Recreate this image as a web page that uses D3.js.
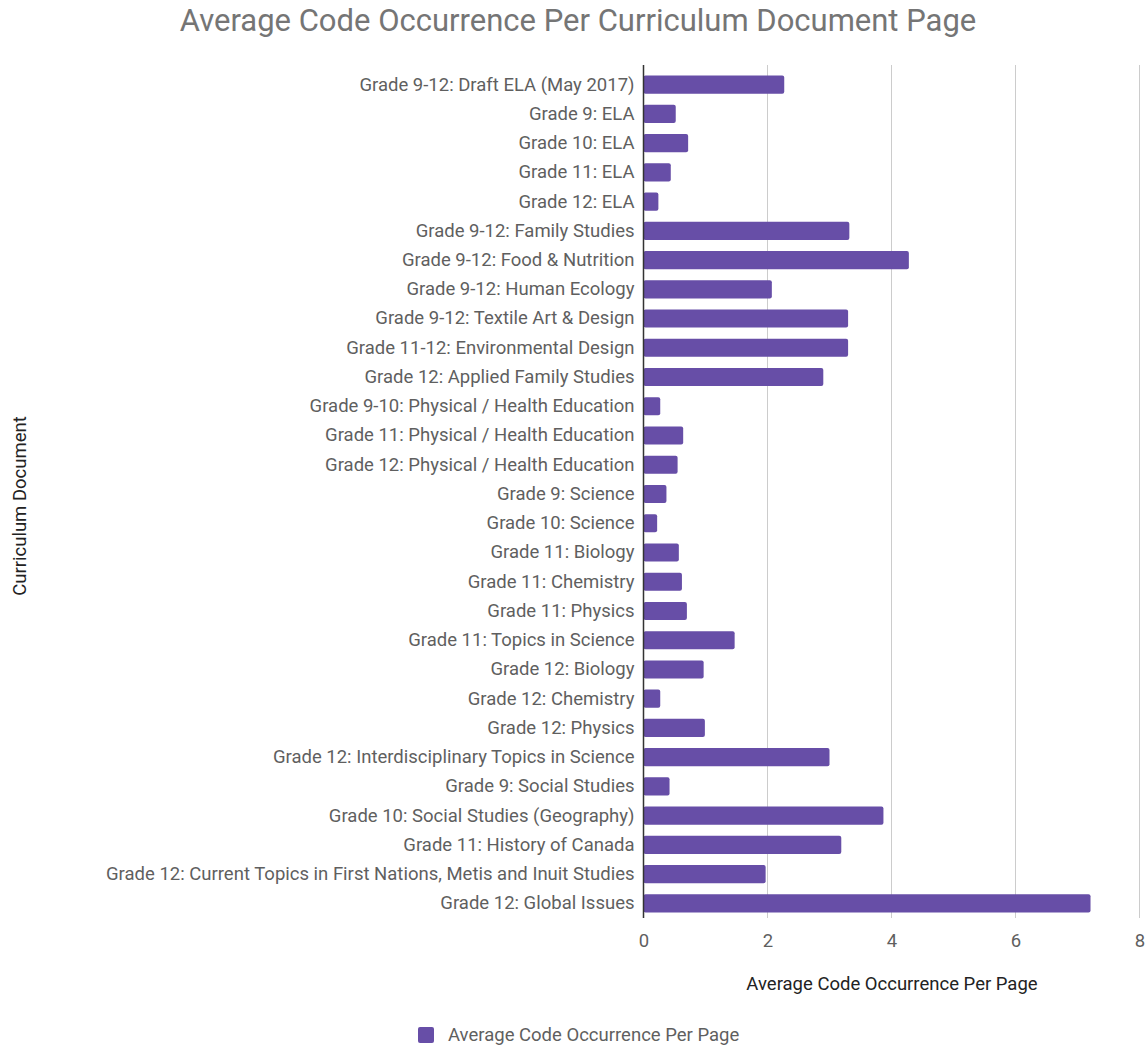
<!DOCTYPE html>
<html>
<head>
<meta charset="utf-8">
<script src="https://cdn.jsdelivr.net/npm/d3@7"></script>
<style>
  html, body { margin: 0; padding: 0; background: #fff; }
  svg { display: block; font-family: Roboto, "Noto Sans", sans-serif; }
</style>
</head>
<body>
<svg id="chart" width="1145" height="1047"></svg>
<script>
// Curriculum documents, top to bottom
const categories = [
  "Grade 9-12: Draft ELA (May 2017)",
  "Grade 9: ELA",
  "Grade 10: ELA",
  "Grade 11: ELA",
  "Grade 12: ELA",
  "Grade 9-12: Family Studies",
  "Grade 9-12: Food & Nutrition",
  "Grade 9-12: Human Ecology",
  "Grade 9-12: Textile Art & Design",
  "Grade 11-12: Environmental Design",
  "Grade 12: Applied Family Studies",
  "Grade 9-10: Physical / Health Education",
  "Grade 11: Physical / Health Education",
  "Grade 12: Physical / Health Education",
  "Grade 9: Science",
  "Grade 10: Science",
  "Grade 11: Biology",
  "Grade 11: Chemistry",
  "Grade 11: Physics",
  "Grade 11: Topics in Science",
  "Grade 12: Biology",
  "Grade 12: Chemistry",
  "Grade 12: Physics",
  "Grade 12: Interdisciplinary Topics in Science",
  "Grade 9: Social Studies",
  "Grade 10: Social Studies (Geography)",
  "Grade 11: History of Canada",
  "Grade 12: Current Topics in First Nations, Metis and Inuit Studies",
  "Grade 12: Global Issues"
];

// Average code occurrence per page for each document
const averageCodeOccurrence = [
  2.27, 0.52, 0.72, 0.44, 0.24,
  3.32, 4.28, 2.07, 3.30, 3.30, 2.90,
  0.27, 0.64, 0.55,
  0.37, 0.22, 0.57, 0.62, 0.70, 1.47, 0.97, 0.27, 0.99, 3.00,
  0.42, 3.87, 3.19, 1.97, 7.21
];

const xTicks = [0, 2, 4, 6, 8];

const chartTitle = "Average Code Occurrence Per Curriculum Document Page";
const xAxisTitle = "Average Code Occurrence Per Page";
const yAxisTitle = "Curriculum Document";
const seriesName = "Average Code Occurrence Per Page";

const barColor = "#674ea7";
const labelSize = 18.5;

const svg = d3.select("#chart");
const plot = { left: 643.5, right: 1139.5, top: 70, bottom: 918 };

const x = d3.scaleLinear().domain([0, 8]).range([plot.left, plot.right]);
const y = d3.scaleBand().domain(categories).range([plot.top, plot.bottom]).paddingInner(0.38).paddingOuter(0.19);

// Title
svg.append("text")
  .attr("x", 578).attr("y", 31)
  .attr("text-anchor", "middle")
  .attr("font-size", 31)
  .attr("fill", "#757575")
  .text(chartTitle);

// Vertical gridlines
svg.append("g")
  .selectAll("line")
  .data(xTicks.filter(t => t !== 0))
  .join("line")
  .attr("x1", d => x(d)).attr("x2", d => x(d))
  .attr("y1", plot.top - 5).attr("y2", plot.bottom)
  .attr("stroke", "#cccccc").attr("stroke-width", 1);

// Bars
svg.append("g")
  .selectAll("rect")
  .data(categories.map((c, i) => ({ c, v: averageCodeOccurrence[i] })))
  .join("rect")
  .attr("x", x(0))
  .attr("y", d => y(d.c))
  .attr("width", d => x(d.v) - x(0))
  .attr("height", y.bandwidth())
  .attr("rx", 2).attr("ry", 2)
  .attr("fill", barColor);

// Baseline at zero
svg.append("line")
  .attr("x1", x(0)).attr("x2", x(0))
  .attr("y1", plot.top - 5).attr("y2", plot.bottom)
  .attr("stroke", "#333333").attr("stroke-width", 1.5);

// Category axis
const yAxis = svg.append("g")
  .attr("transform", `translate(${x(0) - 9},0)`)
  .call(d3.axisLeft(y).tickSize(0).tickPadding(0));
yAxis.select(".domain").remove();
yAxis.selectAll("text")
  .attr("font-family", "Roboto, sans-serif")
  .attr("font-size", labelSize)
  .attr("fill", "#5f5f5f");

// Value axis
const xAxis = svg.append("g")
  .attr("transform", `translate(0,${plot.bottom})`)
  .call(d3.axisBottom(x).tickValues(xTicks).tickFormat(d3.format("d")).tickSize(0).tickPadding(16));
xAxis.select(".domain").remove();
xAxis.selectAll("text")
  .attr("font-family", "Roboto, sans-serif")
  .attr("font-size", labelSize)
  .attr("fill", "#5f5f5f");

// Axis titles
svg.append("text")
  .attr("x", 892).attr("y", 990)
  .attr("text-anchor", "middle")
  .attr("font-size", labelSize)
  .attr("fill", "#222")
  .text(xAxisTitle);

svg.append("text")
  .attr("transform", "translate(26,506) rotate(-90)")
  .attr("text-anchor", "middle")
  .attr("font-size", labelSize)
  .attr("fill", "#222")
  .text(yAxisTitle);

// Legend
const legend = svg.append("g").attr("transform", "translate(418,1027)");
legend.append("rect")
  .attr("width", 16).attr("height", 16).attr("rx", 2)
  .attr("fill", barColor);
legend.append("text")
  .attr("x", 30).attr("y", 14)
  .attr("font-size", labelSize)
  .attr("fill", "#5f5f5f")
  .text(seriesName);
</script>
</body>
</html>
